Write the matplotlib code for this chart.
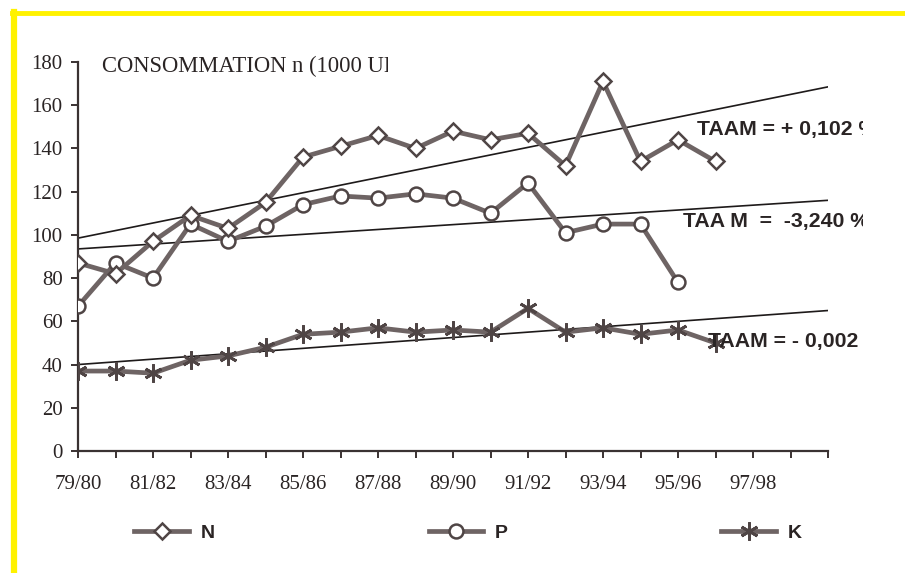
"""Consommation d'engrais N, P, K (1000 UF) avec droites de tendance."""

import matplotlib

matplotlib.use("Agg")
import matplotlib.pyplot as plt
from matplotlib.lines import Line2D
from matplotlib.transforms import Bbox, TransformedBbox

campagnes = ["79/80", "80/81", "81/82", "82/83", "83/84", "84/85", "85/86",
             "86/87", "87/88", "88/89", "89/90", "90/91", "91/92", "92/93",
             "93/94", "94/95", "95/96", "96/97", "97/98", "98/99", "99/00"]
labels_affiches = ["79/80", "81/82", "83/84", "85/86", "87/88", "89/90",
                   "91/92", "93/94", "95/96", "97/98"]

conso_n = [87, 82, 97, 109, 103, 115, 136, 141, 146, 140, 148, 144, 147,
           132, 171, 134, 144, 134]
conso_p = [67, 87, 80, 105, 97, 104, 114, 118, 117, 119, 117, 110, 124,
           101, 105, 105, 78]
conso_k = [37, 37, 36, 42, 44, 48, 54, 55, 57, 55, 56, 55, 66, 55, 57, 54,
           56, 50]

# droites de tendance (debut / fin)
tend_x = [0, 20]
tend_n = [98.5, 168.5]
tend_p = [93.5, 116]
tend_k = [40, 65]

taam = ["TAAM = + 0,102 %", "TAA M  =  -3,240 %", "TAAM = - 0,002 %"]

SERIE = "#6e6464"
BORD = "#4f4545"
AXE = "#3a3232"
SERIF = "Liberation Serif"
SANS = "Liberation Sans"

fig = plt.figure(figsize=(9.05, 5.73), dpi=100)
fig.patch.set_facecolor("white")
ax = fig.add_axes([78 / 905, 1 - 451 / 573, 750 / 905, 389 / 573])

for y in (tend_n, tend_p, tend_k):
    ax.plot(tend_x, y, color="#1e1a1a", lw=1.2, zorder=2)

ax.plot(range(len(conso_n)), conso_n, color=SERIE, lw=3.4, marker="D",
        ms=8.5, mfc="white", mec=BORD, mew=1.8, zorder=4, label="N")
ax.plot(range(len(conso_p)), conso_p, color=SERIE, lw=3.4, marker="o",
        ms=10, mfc="white", mec=BORD, mew=1.8, zorder=3, label="P")
ax.plot(range(len(conso_k)), conso_k, color=SERIE, lw=3.4, marker=(6, 2, 0),
        ms=13, mfc="white", mec=BORD, mew=2.0, zorder=3, label="K")

ax.set_xlim(0, len(campagnes) - 1)
ax.set_ylim(0, 180)
ax.set_xticks(range(len(campagnes)))
ax.set_xticklabels([c if c in labels_affiches else "" for c in campagnes])
ax.set_yticks(range(0, 181, 20))
for s in ("top", "right"):
    ax.spines[s].set_visible(False)
for s in ("left", "bottom"):
    ax.spines[s].set_color(AXE)
    ax.spines[s].set_linewidth(1.6)
ax.tick_params(axis="both", direction="out", length=5, width=1.4, color=AXE,
               labelcolor="#2a2424", labelsize=15)
ax.tick_params(axis="x", pad=12)
ax.tick_params(axis="y", pad=6)
for t in ax.get_xticklabels() + ax.get_yticklabels():
    t.set_fontfamily(SERIF)
ax.set_facecolor("none")


def coupe(x_max):
    return TransformedBbox(Bbox([[0, 0], [x_max / 905, 1]]), fig.transFigure)


# titre coupe comme dans l'original
titre = fig.text(102 / 905, 1 - 72 / 573, "CONSOMMATION n (1000 UF)",
                 family=SERIF, fontsize=16.3, color="#2a2424", va="baseline")
titre.set_clip_on(True)
titre.set_clip_box(coupe(388))

for txt, (x, y) in zip(taam, [(697, 129), (683, 221), (708, 341)]):
    t = fig.text(x / 905, 1 - y / 573, txt, family=SANS, weight="bold",
                 fontsize=15.3, color="#2a2424", va="center", zorder=5)
    t.set_clip_on(True)
    t.set_clip_box(coupe(863))

leg = fig.legend(loc="center", bbox_to_anchor=(468 / 905, 1 - 533 / 573),
                 ncol=3, frameon=False, handlelength=2.8, handletextpad=0.6,
                 columnspacing=11, prop={"family": SANS, "weight": "bold",
                                         "size": 14})
for t in leg.get_texts():
    t.set_color("#2a2424")

# cadre jaune
fig.add_artist(Line2D([12 / 905, 1], [1 - 13 / 573] * 2, color="#fff200",
                      lw=3.5, transform=fig.transFigure))
fig.add_artist(Line2D([14 / 905] * 2, [0, 1 - 12 / 573], color="#fff200",
                      lw=4.5, transform=fig.transFigure))

fig.savefig("out.png", dpi=100)
